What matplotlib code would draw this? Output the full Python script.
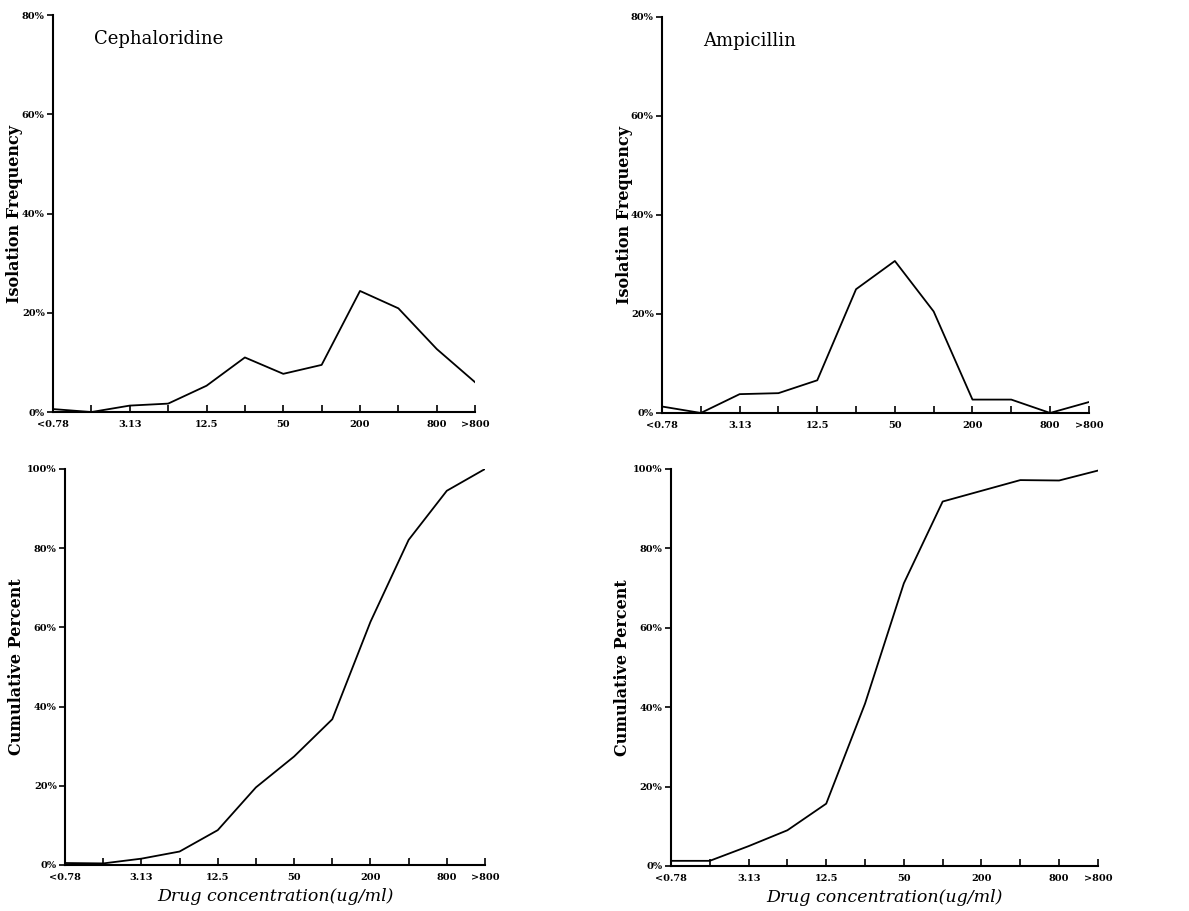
import matplotlib.pyplot as plt
import numpy as np

# concentration categories (ug/ml), labels only on some ticks
categories = ['<0.78', '1.56', '3.13', '6.25', '12.5', '25', '50', '100', '200', '400', '800', '>800']
shown = ['<0.78', '3.13', '12.5', '50', '200', '800', '>800']

# isolation frequency (%)
ceph_freq = [0.6, 0.0, 1.3, 1.7, 5.3, 11.0, 7.7, 9.5, 24.4, 20.9, 12.7, 6.0]
ampi_freq = [1.3, 0.0, 3.8, 4.0, 6.6, 25.0, 30.7, 20.5, 2.7, 2.7, 0.0, 2.2]

# cumulative percent (%)
ceph_cum = [0.5, 0.4, 1.6, 3.4, 8.8, 19.6, 27.4, 36.8, 61.4, 82.1, 94.5, 100.0]
ampi_cum = [1.3, 1.3, 5.0, 9.0, 15.7, 40.9, 71.2, 91.8, 94.5, 97.2, 97.1, 99.6]

plt.rcParams['font.family'] = 'DejaVu Serif'

fig = plt.figure(figsize=(11.89, 9.11), dpi=100)

panels = [
    # rect, values, ymax, ytick step, ylabel, title, ylabel x
    ([0.0446, 0.5477, 0.355, 0.4358], ceph_freq, 80, 20, 'Isolation Frequency', 'Cephaloridine', -0.071),
    ([0.5568, 0.5467, 0.359, 0.4347], ampi_freq, 80, 20, 'Isolation Frequency', 'Ampicillin', -0.068),
    ([0.0547, 0.0505, 0.3532, 0.4347], ceph_cum, 100, 20, 'Cumulative Percent', None, -0.095),
    ([0.5643, 0.0494, 0.3591, 0.4358], ampi_cum, 100, 20, 'Cumulative Percent', None, -0.094),
]

x = np.arange(len(categories))

for rect, vals, ymax, step, ylab, title, ylx in panels:
    ax = fig.add_axes(rect)
    ax.plot(x, vals, color='black', lw=1.3)
    ax.set_xlim(0, len(categories) - 1)
    ax.set_ylim(0, ymax)
    for s in ['top', 'right']:
        ax.spines[s].set_visible(False)
    for s in ['left', 'bottom']:
        ax.spines[s].set_linewidth(1.5)

    ax.set_xticks(x)
    ax.set_xticklabels([c if c in shown else '' for c in categories],
                       fontsize=7, fontweight='bold')
    ax.tick_params(axis='x', direction='in', length=5, width=1.2, pad=6)
    yt = np.arange(0, ymax + 1, step)
    ax.set_yticks(yt)
    ax.set_yticklabels([f'{v}%' for v in yt], fontsize=7, fontweight='bold')
    ax.tick_params(axis='y', direction='out', length=4, width=1.2, pad=2)

    ax.set_ylabel(ylab, fontsize=11.5, fontweight='bold')
    ax.yaxis.set_label_coords(ylx, 0.5)
    if title:
        ax.text(0.097, 0.94, title, transform=ax.transAxes, fontsize=13,
                ha='left', va='center')
    else:
        ax.set_xlabel('Drug concentration(ug/ml)', fontsize=12.5, style='italic')
        ax.xaxis.set_label_coords(0.5, -0.058)

fig.savefig('out.png', dpi=100)
